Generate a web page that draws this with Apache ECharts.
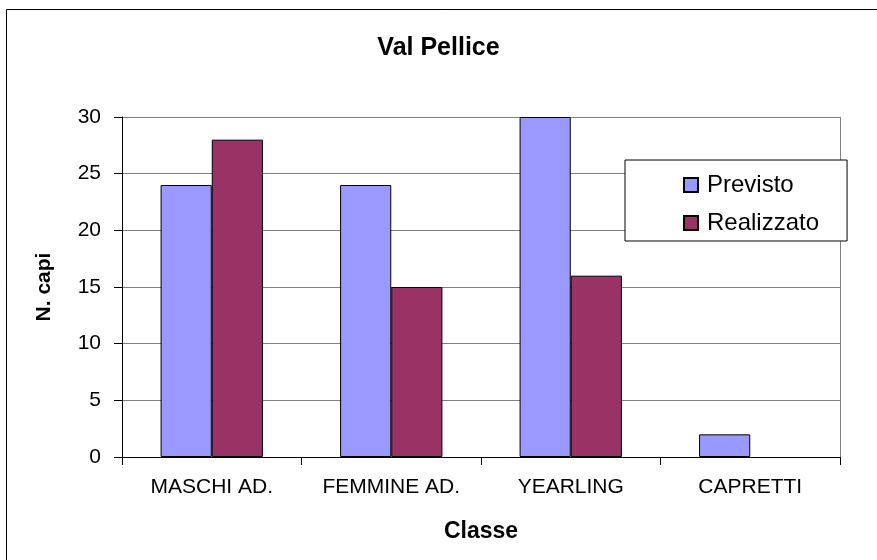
<!DOCTYPE html>
<html>
<head>
<meta charset="utf-8">
<script src="https://cdn.jsdelivr.net/npm/echarts@6/dist/echarts.min.js"></script>
<style>
  html, body { margin: 0; padding: 0; background: #fff; }
  #chart { width: 877px; height: 560px; }
</style>
</head>
<body>
<div id="chart"></div>
<script>
// dati
const classi = ['MASCHI AD.', 'FEMMINE AD.', 'YEARLING', 'CAPRETTI']
const previsto = [24, 24, 30, 2]
const realizzato = [28, 15, 16, null]
const yTicks = [0, 5, 10, 15, 20, 25, 30]

const font = 'Liberation Sans, Arial, sans-serif'
let myChart = echarts.init(document.getElementById('chart'))
myChart.setOption({
  animation: false,
  backgroundColor: '#fff',
  textStyle: { fontFamily: font },
  graphic: [
    { // cornice esterna
      type: 'rect',
      shape: { x: 6.5, y: 9.5, width: 900, height: 600 },
      style: { fill: 'none', stroke: '#000', lineWidth: 1 },
      silent: true
    },
    { // bordo destro dell'area del grafico
      type: 'line',
      shape: { x1: 840.5, y1: 117, x2: 840.5, y2: 457 },
      style: { stroke: '#808080', lineWidth: 1 },
      silent: true,
      z: -1
    }
  ],
  title: {
    text: 'Val Pellice',
    left: 'center',
    top: 31,
    textStyle: { fontSize: 25, fontWeight: 'bold', color: '#000', fontFamily: font }
  },
  legend: {
    orient: 'vertical',
    left: 625,
    top: 160,
    padding: [13, 28, 6, 58],
    itemGap: 14,
    itemWidth: 14,
    itemHeight: 14,
    icon: 'rect',
    borderColor: '#000',
    borderWidth: 1,
    backgroundColor: '#fff',
    textStyle: { fontSize: 24, color: '#000', fontFamily: font, padding: [0, 0, 0, 4] },
    data: ['Previsto', 'Realizzato']
  },
  grid: { left: 122, right: 37, top: 117, bottom: 103 },
  xAxis: {
    type: 'category',
    data: classi,
    name: 'Classe',
    nameLocation: 'middle',
    nameGap: 63,
    nameTextStyle: { fontSize: 23, fontWeight: 'bold', color: '#000' },
    axisLine: { lineStyle: { color: '#000' } },
    axisTick: { show: true, length: 8, lineStyle: { color: '#000' } },
    axisLabel: { fontSize: 21, color: '#000', margin: 20 }
  },
  yAxis: {
    type: 'value',
    min: 0,
    max: 30,
    interval: 5,
    name: 'N. capi',
    nameLocation: 'middle',
    nameGap: 67,
    nameTextStyle: { fontSize: 21, fontWeight: 'bold', color: '#000' },
    axisLine: { show: true, lineStyle: { color: '#000' } },
    axisTick: { show: true, length: 8, lineStyle: { color: '#000' } },
    axisLabel: {
      fontSize: 21,
      color: '#000',
      margin: 21,
      formatter: v => (yTicks.indexOf(v) >= 0 ? String(v) : '')
    },
    splitLine: { show: true, lineStyle: { color: '#808080', width: 1 } }
  },
  series: [
    {
      name: 'Previsto',
      type: 'bar',
      data: previsto,
      barGap: '0%',
      barCategoryGap: '43%',
      itemStyle: { color: '#9999FF', borderColor: '#000', borderWidth: 1 }
    },
    {
      name: 'Realizzato',
      type: 'bar',
      data: realizzato,
      itemStyle: { color: '#993366', borderColor: '#000', borderWidth: 1 }
    }
  ]
})
</script>
</body>
</html>
